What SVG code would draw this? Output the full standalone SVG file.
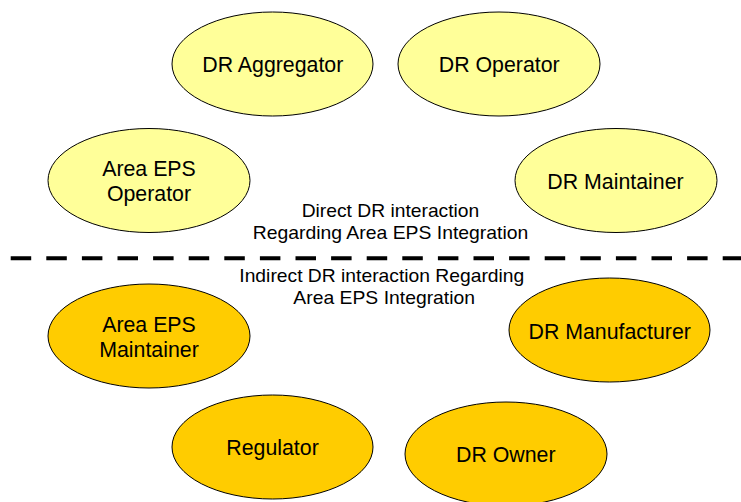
<svg xmlns="http://www.w3.org/2000/svg" width="741" height="502" viewBox="0 0 741 502">
<style>
.direct{fill:#FFFF99;stroke:#000;stroke-width:1}
.indirect{fill:#FFCC00;stroke:#000;stroke-width:1}
.lbl{font-family:"Liberation Sans",Arial,sans-serif;font-size:21.33px;fill:#000;text-anchor:middle}
.note{font-family:"Liberation Sans",Arial,sans-serif;font-size:19px;fill:#000;text-anchor:middle}
.divider{stroke:#000;stroke-width:4;stroke-dasharray:20.5 15.1;fill:none}
</style>
<rect width="741" height="502" fill="#fff"/>
<g id="connectors">
<line class="divider" x1="10.7" y1="258.3" x2="741" y2="258.3"/>
</g>
<g id="dr-aggregator">
<ellipse class="direct" cx="272.5" cy="64" rx="100.5" ry="52"/>
<text class="lbl" x="272.8" y="72.3">DR Aggregator</text>
</g>
<g id="dr-operator">
<ellipse class="direct" cx="499" cy="64" rx="101" ry="52"/>
<text class="lbl" x="499.2" y="71.7">DR Operator</text>
</g>
<g id="area-eps-operator">
<ellipse class="direct" cx="149" cy="180.5" rx="101" ry="52"/>
<text class="lbl" x="149" y="175.7">Area EPS</text>
<text class="lbl" x="149" y="200.5">Operator</text>
</g>
<g id="dr-maintainer">
<ellipse class="direct" cx="616" cy="180.5" rx="101" ry="52"/>
<text class="lbl" x="615.5" y="189.3">DR Maintainer</text>
</g>
<g id="direct-label">
<text class="note" x="390.5" y="216.7" textLength="177.6" lengthAdjust="spacingAndGlyphs">Direct DR interaction</text>
<text class="note" x="390.5" y="239.3" textLength="275.6" lengthAdjust="spacingAndGlyphs">Regarding Area EPS Integration</text>
</g>
<g id="indirect-label">
<text class="note" x="381.8" y="281.5" textLength="285" lengthAdjust="spacingAndGlyphs">Indirect DR interaction Regarding</text>
<text class="note" x="384.2" y="303.5" textLength="181.7" lengthAdjust="spacingAndGlyphs">Area EPS Integration</text>
</g>
<g id="area-eps-maintainer">
<ellipse class="indirect" cx="149" cy="336" rx="101" ry="52"/>
<text class="lbl" x="149" y="331.7">Area EPS</text>
<text class="lbl" x="149" y="357.3">Maintainer</text>
</g>
<g id="dr-manufacturer">
<ellipse class="indirect" cx="609.5" cy="330" rx="100.5" ry="52"/>
<text class="lbl" x="609.7" y="339.3">DR Manufacturer</text>
</g>
<g id="regulator">
<ellipse class="indirect" cx="272.5" cy="447" rx="100.5" ry="52"/>
<text class="lbl" x="272.5" y="455">Regulator</text>
</g>
<g id="dr-owner">
<ellipse class="indirect" cx="506" cy="454" rx="101" ry="52"/>
<text class="lbl" x="505.8" y="461.7">DR Owner</text>
</g>
</svg>
